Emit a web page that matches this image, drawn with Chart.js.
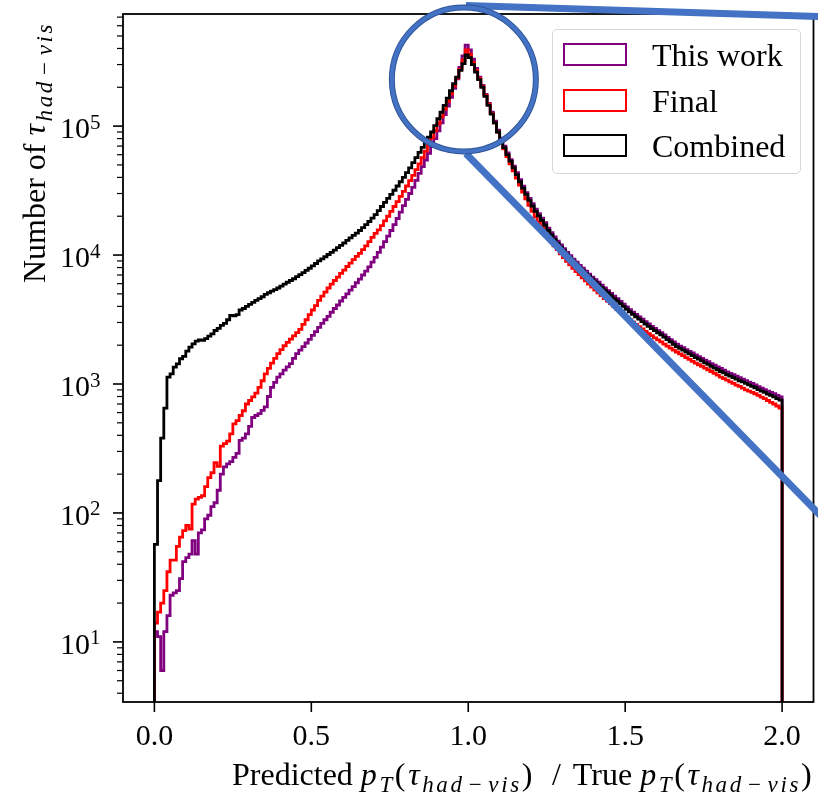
<!DOCTYPE html>
<html>
<head>
<meta charset="utf-8">
<script src="https://cdn.jsdelivr.net/npm/chart.js@4.4.1/dist/chart.umd.min.js"></script>
<style>
  body { margin: 0; background: #fff; }
  #wrap { position: relative; width: 818px; height: 796px; overflow: hidden; }
  #chart { position: absolute; left: 0; top: 0; }
  .lbl { position: absolute; font-family: "Liberation Serif", serif; font-size: 32px; white-space: nowrap; color: #000; line-height: 1; }
  .lbl .g { letter-spacing: 2.6px; }
  .lbl sub { font-size: 23px; vertical-align: -0.3em; line-height: 0; }
  .lbl .op { margin: 0 0.18em; font-style: normal; }
  .lbl .sl { margin: 0 12px 0 17px; }
  #xlabel { left: 232px; top: 758px; }
  #ylabel { left: 18px; top: 283px; transform-origin: 0 0; transform: rotate(-90deg); }
  #legend { position: absolute; left: 552px; top: 29px; width: 249px; height: 145px; box-sizing: border-box;
            border: 1.5px solid #d6d6d6; border-radius: 5px; background: rgba(255,255,255,0.8); }
  #legend .item { position: absolute; left: 10px; height: 22px; }
  #legend .swatch { position: absolute; left: 0; top: 0; width: 64px; height: 23px; box-sizing: border-box; border: 2px solid; }
  #legend .name { position: absolute; left: 89px; top: -4px; font: 32px/1 "Liberation Serif", serif; white-space: nowrap; }
</style>
</head>
<body>
<div id="wrap">
  <canvas id="chart" width="818" height="796"></canvas>
  <div id="xlabel" class="lbl">Predicted&nbsp;<span class="g"><i>p</i><sub><i>T</i></sub>(<i>τ</i><sub><i>had</i><span class="op">−</span><i>vis</i></sub>)</span><span class="sl">/</span>True&nbsp;<span class="g"><i>p</i><sub><i>T</i></sub>(<i>τ</i><sub><i>had</i><span class="op">−</span><i>vis</i></sub>)</span></div>
  <div id="ylabel" class="lbl">Number of&nbsp;<span class="g"><i>τ</i><sub><i>had</i><span class="op">−</span><i>vis</i></sub></span></div>
  <div id="legend"></div>
</div>
<script>
// Histogram binning: 200 bins of width 0.01 starting at 0
const binLow = 0;
const binWidth = 0.01;
const nBins = 200;

// Counts per bin
const thisWork = [
  12, 11, 6, 12, 16, 23, 24, 25, 31, 42,
  45, 48, 61, 48, 70, 74, 90, 96, 112, 120,
  150, 200, 228, 240, 250, 270, 290, 365, 380, 411,
  470, 550, 570, 590, 625, 665, 800, 940, 1030, 1130,
  1200, 1280, 1360, 1440, 1580, 1720, 1830, 1950, 2080, 2220,
  2380, 2550, 2750, 2950, 3150, 3350, 3600, 3850, 4100, 4400,
  4700, 5000, 5350, 5700, 6100, 6500, 7000, 7500, 8100, 8800,
  9600, 10500, 11500, 12700, 14000, 15500, 17200, 19200, 21500, 24200,
  27000, 30000, 33500, 38000, 43000, 48500, 54500, 61500, 70000, 80000,
  92000, 106000, 123000, 143000, 167000, 196000, 232000, 285000, 350000, 425000,
  390000, 330000, 280000, 240000, 207000, 176000, 150000, 128000, 109000, 93000,
  80500, 70000, 62000, 55000, 49000, 43500, 38500, 34200, 30500, 27500,
  25000, 22700, 20900, 19300, 17800, 16200, 14900, 13800, 12800, 12000,
  11200, 10500, 9900, 9300, 8800, 8300, 7900, 7500, 7100, 6750,
  6450, 6150, 5850, 5550, 5300, 5050, 4800, 4600, 4380, 4170,
  3960, 3780, 3610, 3460, 3310, 3180, 3040, 2920, 2800, 2700,
  2590, 2500, 2400, 2300, 2210, 2120, 2040, 1970, 1910, 1850,
  1790, 1740, 1680, 1630, 1580, 1530, 1490, 1440, 1400, 1360,
  1320, 1280, 1240, 1210, 1180, 1150, 1120, 1090, 1060, 1035,
  1010, 985, 955, 930, 905, 880, 860, 840, 815, 795
];
const finalModel = [
  14, 17, 20, 25, 35, 43, 43, 55, 65, 73,
  80, 75, 117, 128, 132, 136, 160, 188, 205, 245,
  230, 330, 345, 360, 410, 490, 520, 570, 620, 700,
  745, 795, 850, 940, 1060, 1200, 1320, 1450, 1580, 1720,
  1850, 1980, 2100, 2230, 2360, 2500, 2650, 2900, 3150, 3450,
  3750, 4050, 4450, 4800, 5150, 5550, 5950, 6350, 6750, 7200,
  7650, 8150, 8650, 9200, 9750, 10300, 11000, 11800, 12700, 13700,
  14700, 15700, 16900, 18400, 20000, 21800, 23800, 26000, 28500, 31200,
  34300, 37800, 41500, 46000, 51000, 57000, 64000, 72000, 81000, 92000,
  104000, 118000, 135000, 155000, 178000, 205000, 237000, 275000, 325000, 389000,
  360000, 312000, 270000, 234000, 203000, 173000, 147000, 125000, 106000, 90000,
  77000, 66500, 58000, 51000, 45000, 39500, 34800, 30800, 27300, 24300,
  21800, 19700, 18000, 16500, 15100, 13900, 12800, 11800, 11000, 10200,
  9550, 8950, 8400, 7900, 7450, 7050, 6650, 6300, 5950, 5650,
  5350, 5100, 4850, 4600, 4400, 4200, 4000, 3800, 3620, 3460,
  3300, 3150, 3020, 2900, 2780, 2670, 2560, 2460, 2370, 2280,
  2200, 2120, 2040, 1970, 1900, 1830, 1770, 1710, 1660, 1600,
  1550, 1500, 1450, 1410, 1370, 1330, 1290, 1250, 1210, 1170,
  1130, 1100, 1070, 1040, 1010, 980, 960, 930, 900, 880,
  860, 840, 815, 790, 770, 745, 720, 700, 675, 650
];
const combined = [
  57, 178, 380, 650, 1130, 1200, 1350, 1430, 1570, 1640,
  1800, 1930, 2050, 2150, 2200, 2180, 2250, 2350, 2450, 2600,
  2700, 2850, 2950, 3150, 3400, 3380, 3450, 3750, 3850, 4000,
  4150, 4300, 4450, 4600, 4750, 4950, 5100, 5250, 5400, 5550,
  5750, 5950, 6150, 6350, 6550, 6800, 7050, 7300, 7600, 7900,
  8250, 8600, 9000, 9350, 9700, 10100, 10500, 10900, 11400, 11900,
  12400, 13000, 13600, 14200, 14800, 15500, 16300, 17200, 18200, 19300,
  20600, 22100, 23800, 25600, 27500, 29500, 31800, 34300, 37000, 40000,
  43500, 47500, 52000, 57000, 62500, 68500, 75000, 82000, 90000, 101000,
  114000, 128000, 145000, 165000, 188000, 213000, 240000, 270000, 305000, 356000,
  340000, 300000, 262000, 229000, 200000, 170000, 145000, 124000, 106000, 90000,
  78000, 68000, 60000, 53500, 47500, 42000, 37000, 33000, 29500, 26500,
  24000, 21800, 20100, 18600, 17100, 15500, 14300, 13200, 12300, 11500,
  10800, 10100, 9500, 8950, 8450, 8000, 7600, 7200, 6850, 6500,
  6200, 5900, 5600, 5350, 5100, 4850, 4600, 4400, 4200, 4000,
  3800, 3630, 3470, 3320, 3180, 3050, 2920, 2800, 2690, 2590,
  2490, 2400, 2310, 2210, 2120, 2030, 1950, 1890, 1830, 1770,
  1710, 1660, 1600, 1560, 1510, 1460, 1420, 1370, 1330, 1290,
  1250, 1220, 1180, 1150, 1120, 1090, 1060, 1040, 1010, 985,
  960, 935, 905, 880, 860, 835, 815, 795, 770, 750
];

const seriesLabels = ["This work", "Final", "Combined"];
const seriesColors = ["purple", "red", "black"];
const seriesCounts = [thisWork, finalModel, combined];

// Axes
const xTicks = [0, 0.5, 1.0, 1.5, 2.0];
const xTickLabels = ["0.0", "0.5", "1.0", "1.5", "2.0"];
const yDecades = [1, 2, 3, 4, 5];

// Blue zoom circle drawn around the peak (data coords of its centre)
const zoomCentre = [0.986, 2.3e5];

// baseline value below the log axis so the outline drops off the bottom
const floorValue = 1;

function stepPoints(counts) {
  const pts = [{ x: binLow, y: floorValue }];
  counts.forEach((c, i) => pts.push({ x: binLow + i * binWidth, y: c }));
  pts.push({ x: binLow + nBins * binWidth, y: floorValue });
  return pts;
}

const serif = '"Liberation Serif", serif';

// Frame, tick marks and 10^n labels
const frameTicks = {
  id: "frameTicks",
  afterDatasetsDraw(chart) {
    const { ctx, chartArea: a, scales: { x, y } } = chart;
    ctx.save();
    ctx.strokeStyle = "#000";
    ctx.lineWidth = 1.8;
    ctx.strokeRect(a.left, a.top, a.right - a.left, a.bottom - a.top);

    ctx.lineWidth = 1.6;
    xTicks.forEach((v) => {
      const px = x.getPixelForValue(v);
      ctx.beginPath();
      ctx.moveTo(px, a.bottom);
      ctx.lineTo(px, a.bottom + 10);
      ctx.stroke();
    });

    for (let e = 0; e <= 6; e++) {
      for (let m = 1; m <= 9; m++) {
        const v = m * Math.pow(10, e);
        if (v < y.min || v > y.max) continue;
        const py = y.getPixelForValue(v);
        ctx.lineWidth = m === 1 ? 1.6 : 1.2;
        ctx.beginPath();
        ctx.moveTo(a.left, py);
        ctx.lineTo(a.left - (m === 1 ? 10 : 6), py);
        ctx.stroke();
      }
    }

    ctx.fillStyle = "#000";
    ctx.textBaseline = "alphabetic";
    yDecades.forEach((e) => {
      const py = y.getPixelForValue(Math.pow(10, e));
      ctx.font = "30px " + serif;
      ctx.textAlign = "right";
      ctx.fillText("10", a.left - 33, py + 12);
      ctx.font = "21px " + serif;
      ctx.textAlign = "left";
      ctx.fillText(String(e), a.left - 33, py + 2.5);
    });
    ctx.restore();
  },
};

// Zoom indicator: circle round the peak and two lines off to the right
const zoomMark = {
  id: "zoomMark",
  afterDraw(chart) {
    const { ctx, scales: { x, y } } = chart;
    const cx = x.getPixelForValue(zoomCentre[0]);
    const cy = y.getPixelForValue(zoomCentre[1]);
    const r = 72;
    const w = chart.width;
    ctx.save();
    ctx.strokeStyle = "#4472c4";
    ctx.lineWidth = 7;
    [[cy - r - 2, 16.5], [cy + r + 2, 513]].forEach(([y0, y1]) => {
      const x0 = cx + 2;
      ctx.beginPath();
      ctx.moveTo(x0, y0);
      ctx.lineTo(x0 + (w - x0) * 1.05, y0 + (y1 - y0) * 1.05);
      ctx.stroke();
    });
    ctx.beginPath();
    ctx.arc(cx, cy, r, 0, Math.PI * 2);
    ctx.lineWidth = 6;
    ctx.strokeStyle = "#2f5597";
    ctx.stroke();
    ctx.lineWidth = 4;
    ctx.strokeStyle = "#4472c4";
    ctx.stroke();
    ctx.restore();
  },
};

const chart = new Chart(document.getElementById("chart"), {
  type: "line",
  data: {
    datasets: seriesCounts.map((counts, i) => ({
      label: seriesLabels[i],
      data: stepPoints(counts),
      borderColor: seriesColors[i],
      borderWidth: 2.8,
      pointRadius: 0,
      fill: false,
      stepped: true,
      order: seriesCounts.length - i, // Combined drawn on top
    })),
  },
  options: {
    responsive: false,
    animation: false,
    devicePixelRatio: 1,
    layout: { padding: { top: 14, right: 3, left: 0, bottom: 0 } },
    plugins: { legend: { display: false }, tooltip: { enabled: false } },
    scales: {
      x: {
        type: "linear",
        min: -0.1,
        max: 2.1,
        grid: { display: false, drawTicks: false },
        border: { display: false },
        afterBuildTicks: (s) => { s.ticks = xTicks.map((v) => ({ value: v })); },
        afterFit: (s) => { s.height = 94; },
        ticks: {
          color: "#000",
          font: { family: "Liberation Serif", size: 30 },
          padding: 17,
          maxRotation: 0,
          autoSkip: false,
          callback: (v, i) => xTickLabels[i],
        },
      },
      y: {
        type: "logarithmic",
        min: 3.42,
        max: 7.4e5,
        grid: { display: false, drawTicks: false },
        border: { display: false },
        ticks: { display: false },
        afterFit: (s) => { s.width = 123; },
      },
    },
  },
  plugins: [frameTicks, zoomMark],
});

// HTML legend built from the datasets
const legend = document.getElementById("legend");
chart.data.datasets.forEach((ds, i) => {
  const row = document.createElement("div");
  row.className = "item";
  row.style.top = (13 + i * 45.5) + "px";
  row.innerHTML = `<span class="swatch" style="border-color:${ds.borderColor}"></span>` +
    `<span class="name">${ds.label}</span>`;
  legend.appendChild(row);
});
</script>
</body>
</html>
